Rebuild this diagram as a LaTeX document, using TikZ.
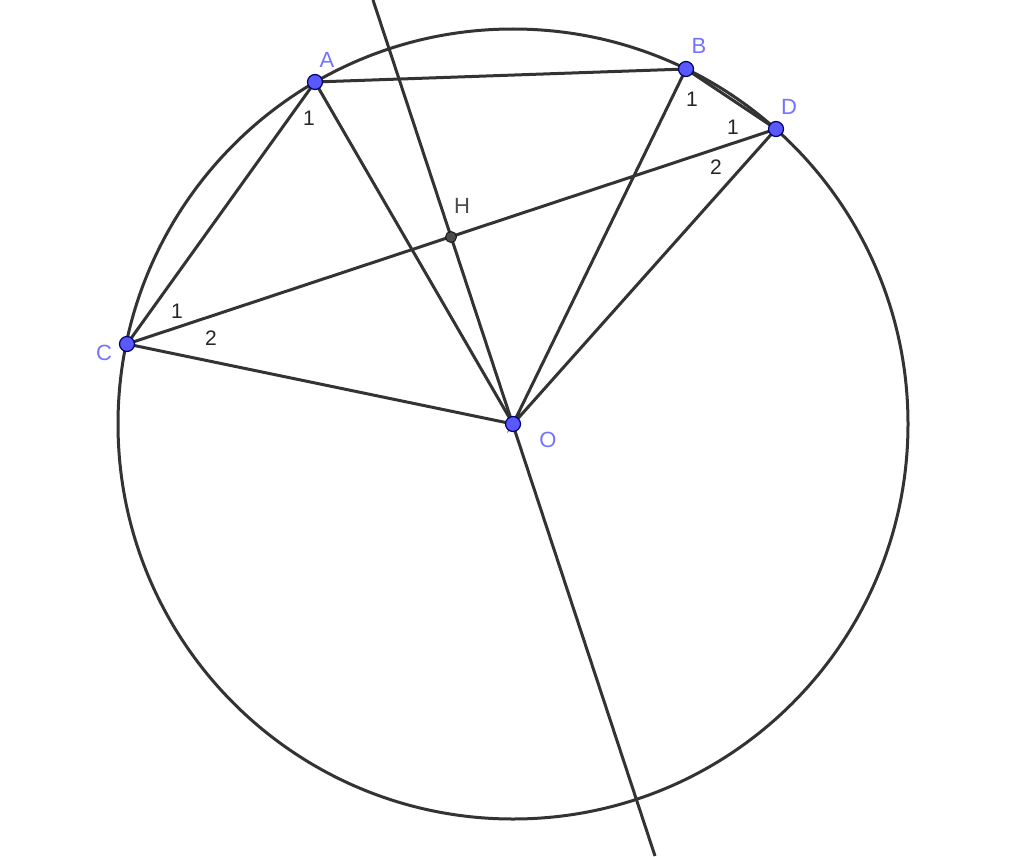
\documentclass[tikz,border=0pt]{standalone}
\usepackage{fontspec}
\setmainfont{Liberation Sans}
\begin{document}
\begin{tikzpicture}[x=1pt,y=-1pt,
  seg/.style={draw=black!80,line width=3pt},
  pt/.style={circle,draw=blue!40!black,fill=blue!65!white,line width=1.2pt,inner sep=0pt,minimum size=15pt},
  hpt/.style={circle,draw=black!90,fill=black!70,line width=1pt,inner sep=0pt,minimum size=11pt},
  ptlab/.style={text=blue!55!white,font=\fontsize{22}{22}\selectfont,inner sep=0pt},
  hlab/.style={text=black!70,font=\fontsize{22}{22}\selectfont,inner sep=0pt},
  num/.style={text=black!85,font=\fontsize{21}{21}\selectfont,inner sep=0pt}]
\useasboundingbox (0,0) rectangle (1024,856);
\coordinate (O) at (513,424);
\coordinate (A) at (315,82);
\coordinate (B) at (686,69);
\coordinate (D) at (776,129);
\coordinate (C) at (127,344);
\coordinate (H) at (451,237);
\coordinate (T) at (373,0);
\coordinate (E) at (655,856);
\draw[seg] (O) circle[radius=395];
\draw[seg] (T) -- (E);
\draw[seg] (A) -- (B) -- (D);
\draw[seg] (A) -- (C) -- (O) -- (A);
\draw[seg] (C) -- (D) -- (O) -- (B);
\node[hpt] (h) at (H) {};
\node[pt] (a) at (A) {};
\node[pt] (b) at (B) {};
\node[pt] (d) at (D) {};
\node[pt] (c) at (C) {};
\node[pt] (o) at (O) {};
\node[ptlab] (la) at (327,60) {A};
\node[ptlab] (lb) at (699,46) {B};
\node[ptlab] (ld) at (789,107) {D};
\node[ptlab] (lc) at (104,353) {C};
\node[ptlab] (lo) at (548,440) {O};
\node[hlab] (lh) at (462,206) {H};
\node[num] (n1) at (309,118) {1};
\node[num] (n2) at (692,99) {1};
\node[num] (n3) at (733,127) {1};
\node[num] (n4) at (716,167) {2};
\node[num] (n5) at (177,311) {1};
\node[num] (n6) at (211,338) {2};
\end{tikzpicture}
\end{document}
